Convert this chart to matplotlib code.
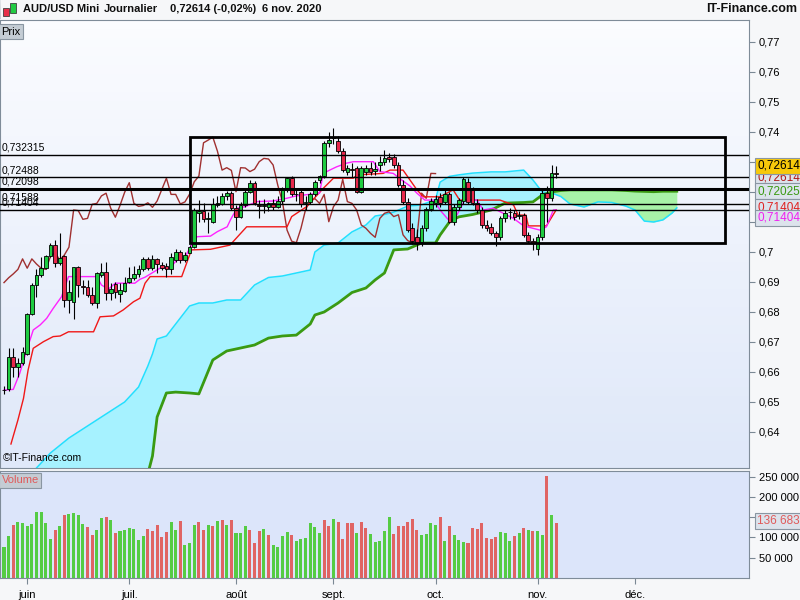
import numpy as np
import matplotlib
matplotlib.use("Agg")
import matplotlib.pyplot as plt
from matplotlib.patches import Rectangle

plt.rcParams['font.family'] = ['Liberation Sans', 'DejaVu Sans']

# daily candles, 25 May -> 6 Nov 2020 (index 0..119)
opens = [0.6541, 0.6542, 0.6651, 0.6616, 0.6629, 0.6660, 0.6792, 0.6890, 0.6923, 0.6946,
         0.6987, 0.7023, 0.6962, 0.6987, 0.6840, 0.6834, 0.6949, 0.6887, 0.6884, 0.6857,
         0.6829, 0.6923, 0.6932, 0.6862, 0.6892, 0.6860, 0.6871, 0.6901, 0.6914, 0.6926,
         0.6942, 0.6977, 0.6946, 0.6977, 0.6957, 0.6954, 0.6942, 0.6973, 0.6999, 0.6973,
         0.6998, 0.7016, 0.7131, 0.7138, 0.7109, 0.7100, 0.7157, 0.7159, 0.7187, 0.7196,
         0.7146, 0.7116, 0.7157, 0.7199, 0.7231, 0.7155, 0.7152, 0.7151, 0.7164, 0.7149,
         0.7171, 0.7207, 0.7246, 0.7194, 0.7200, 0.7164, 0.7167, 0.7193, 0.7240, 0.7253,
         0.7364, 0.7380, 0.7371, 0.7336, 0.7268, 0.7278, 0.7279, 0.7201, 0.7268, 0.7281,
         0.7270, 0.7289, 0.7301, 0.7316, 0.7318, 0.7290, 0.7223, 0.7168, 0.7080, 0.7050,
         0.7034, 0.7079, 0.7142, 0.7162, 0.7184, 0.7168, 0.7192, 0.7101, 0.7151, 0.7169,
         0.7234, 0.7207, 0.7162, 0.7140, 0.7090, 0.7084, 0.7062, 0.7049, 0.7112, 0.7132,
         0.7131, 0.7121, 0.7123, 0.7057, 0.7038, 0.7010, 0.7051, 0.7196, 0.7179, 0.7263]
highs = [0.6552, 0.6679, 0.6679, 0.6646, 0.6682, 0.6796, 0.6896, 0.6942, 0.6984, 0.6990,
         0.7029, 0.7040, 0.7062, 0.6990, 0.6907, 0.6951, 0.6953, 0.6905, 0.6907, 0.6884,
         0.6934, 0.6962, 0.6966, 0.6896, 0.6900, 0.6896, 0.6918, 0.6951, 0.6953, 0.6957,
         0.6984, 0.6984, 0.6990, 0.6980, 0.6968, 0.6962, 0.6995, 0.7009, 0.7007, 0.6999,
         0.7024, 0.7146, 0.7173, 0.7162, 0.7134, 0.7179, 0.7185, 0.7198, 0.7204, 0.7204,
         0.7155, 0.7168, 0.7207, 0.7240, 0.7237, 0.7173, 0.7175, 0.7168, 0.7175, 0.7185,
         0.7215, 0.7250, 0.7252, 0.7210, 0.7205, 0.7185, 0.7200, 0.7240, 0.7258, 0.7370,
         0.7401, 0.7413, 0.7385, 0.7345, 0.7290, 0.7295, 0.7285, 0.7285, 0.7290, 0.7300,
         0.7300, 0.7320, 0.7340, 0.7330, 0.7325, 0.7300, 0.7240, 0.7180, 0.7095, 0.7075,
         0.7090, 0.7150, 0.7180, 0.7190, 0.7195, 0.7205, 0.7200, 0.7160, 0.7180, 0.7250,
         0.7245, 0.7215, 0.7175, 0.7150, 0.7105, 0.7095, 0.7070, 0.7120, 0.7140, 0.7145,
         0.7140, 0.7135, 0.7130, 0.7065, 0.7045, 0.7060, 0.7205, 0.7220, 0.7290, 0.7285]
lows = [0.6528, 0.6538, 0.6584, 0.6584, 0.6623, 0.6657, 0.6790, 0.6851, 0.6918, 0.6942,
        0.6984, 0.6951, 0.6957, 0.6818, 0.6796, 0.6776, 0.6851, 0.6860, 0.6851, 0.6823,
        0.6812, 0.6918, 0.6840, 0.6840, 0.6845, 0.6834, 0.6868, 0.6896, 0.6907, 0.6918,
        0.6938, 0.6940, 0.6940, 0.6929, 0.6940, 0.6918, 0.6925, 0.6968, 0.6962, 0.6968,
        0.6996, 0.7013, 0.7101, 0.7101, 0.7062, 0.7096, 0.7150, 0.7157, 0.7173, 0.7140,
        0.7073, 0.7112, 0.7150, 0.7195, 0.7157, 0.7112, 0.7130, 0.7135, 0.7140, 0.7145,
        0.7160, 0.7200, 0.7185, 0.7170, 0.7150, 0.7140, 0.7160, 0.7185, 0.7230, 0.7245,
        0.7350, 0.7360, 0.7330, 0.7265, 0.7255, 0.7250, 0.7195, 0.7195, 0.7255, 0.7255,
        0.7255, 0.7270, 0.7290, 0.7300, 0.7280, 0.7215, 0.7160, 0.7065, 0.7025, 0.7008,
        0.7020, 0.7070, 0.7135, 0.7150, 0.7150, 0.7160, 0.7095, 0.7090, 0.7140, 0.7160,
        0.7160, 0.7155, 0.7130, 0.7080, 0.7070, 0.7055, 0.7020, 0.7040, 0.7100, 0.7110,
        0.7105, 0.7110, 0.7050, 0.7030, 0.7005, 0.6991, 0.7040, 0.7100, 0.7170, 0.7245]
closes = [0.6540, 0.6651, 0.6616, 0.6631, 0.6668, 0.6792, 0.6890, 0.6923, 0.6946, 0.6987,
          0.7023, 0.6962, 0.6979, 0.6840, 0.6868, 0.6949, 0.6890, 0.6884, 0.6857, 0.6829,
          0.6929, 0.6932, 0.6862, 0.6876, 0.6868, 0.6873, 0.6898, 0.6914, 0.6927, 0.6942,
          0.6977, 0.6946, 0.6977, 0.6960, 0.6946, 0.6942, 0.6984, 0.6999, 0.6973, 0.6990,
          0.7016, 0.7140, 0.7138, 0.7109, 0.7112, 0.7159, 0.7162, 0.7187, 0.7196, 0.7146,
          0.7116, 0.7155, 0.7199, 0.7231, 0.7162, 0.7152, 0.7155, 0.7164, 0.7149, 0.7170,
          0.7208, 0.7246, 0.7192, 0.7192, 0.7160, 0.7167, 0.7193, 0.7234, 0.7253, 0.7364,
          0.7373, 0.7383, 0.7336, 0.7273, 0.7281, 0.7272, 0.7201, 0.7281, 0.7280, 0.7268,
          0.7276, 0.7301, 0.7312, 0.7310, 0.7290, 0.7223, 0.7168, 0.7073, 0.7036, 0.7031,
          0.7079, 0.7142, 0.7170, 0.7178, 0.7162, 0.7192, 0.7101, 0.7151, 0.7173, 0.7242,
          0.7168, 0.7162, 0.7140, 0.7090, 0.7079, 0.7062, 0.7049, 0.7112, 0.7129, 0.7134,
          0.7118, 0.7124, 0.7057, 0.7038, 0.7031, 0.7050, 0.7196, 0.7179, 0.7262, 0.72614]

# volume in thousands
volumes = [75.6, 103.6, 130.7, 138, 134.8, 128, 133, 162.8, 162.8, 136.5,
           96, 118, 128, 155, 158, 161, 155, 133, 126.6, 106,
           118, 148, 150, 143, 112, 115, 118, 123, 120, 94,
           103.6, 121, 116, 130.7, 101, 113, 138, 118, 140.6, 81,
           86, 130.7, 138, 118, 130.7, 128, 140.6, 143, 130.7, 143,
           111, 111, 128, 118, 86, 116, 121, 106, 81, 76,
           103.6, 113, 106, 91, 96, 98.6, 135.6, 125.8, 111, 143,
           128, 145.5, 138, 96, 135.6, 135.6, 111, 138, 123, 108.5,
           88.8, 91, 116, 150, 108.5, 128, 128, 138, 145.5, 118,
           106, 108.5, 135.6, 130.7, 150, 91, 128, 106, 94, 88.8,
           86, 123, 121, 135.6, 98.6, 96, 101, 113, 111, 91,
           103.6, 111, 123, 118, 116, 116, 106, 251.5, 155, 136.683]
vol_dir = ("GGRGGGGGGG" "GRGRGGGGRR" "GGRGRGGGGG" "GRRRRRGGRG" "GGRRGRGRGR"
           "GGGRRRGRGG" "GGRGGGGGGR" "RGRRRRGRRG" "GGGGRRRRRR" "GGGGRGRGGG"
           "RRRRRRRGGG" "RGRGRGGRGR")

# ichimoku lines (bar index, price)
tenkan_x = [0, 2, 3.4, 4.9, 6.3, 7.8, 9.2, 10.6, 12.4, 13.9, 20, 21, 22.5, 24, 28.2, 29.3,
            30.4, 33.6, 35.8, 37.2, 38.7, 40.2, 41.6, 44.5, 46, 48.1, 48.8, 50.2, 52, 54.5,
            58, 60.9, 63, 68, 68.8, 70.2, 71.7, 73.8, 75.3, 79.6, 81, 83.9, 85.7, 87.5, 89,
            90.7, 92.5, 94.3, 95.8, 97.6, 99.3, 101.9, 103.3, 105.4, 107.6, 109.8, 112, 114,
            115.5, 116.9, 118.4, 119]
tenkan_y = [0.6540, 0.6542, 0.6596, 0.6673, 0.6740, 0.6757, 0.6779, 0.6812, 0.6851, 0.6918,
            0.6918, 0.6890, 0.6876, 0.6896, 0.6896, 0.6909, 0.6916, 0.6946, 0.6946, 0.6973,
            0.6973, 0.7018, 0.7051, 0.7053, 0.7068, 0.7084, 0.7107, 0.7146, 0.7151, 0.7168,
            0.7170, 0.7179, 0.7187, 0.7196, 0.7262, 0.7273, 0.7284, 0.7296, 0.7301, 0.7301,
            0.7268, 0.7262, 0.7240, 0.7220, 0.7196, 0.7173, 0.7173, 0.7134, 0.7107, 0.7123,
            0.7173, 0.7173, 0.7140, 0.7146, 0.7129, 0.7112, 0.7087, 0.7079, 0.7073, 0.7084,
            0.7140, 0.71404]

kijun_x = [1.5, 3, 4.2, 5.2, 6.3, 8.5, 10.6, 12.1, 13.9, 19.3, 20.7, 23.6, 25.7, 27.9, 29.3,
           30.4, 31.5, 38.3, 40.4, 44.5, 48.7, 52.3, 61, 62, 65.2, 68.8, 71, 75.3, 76.1, 81.7,
           83.2, 86, 89, 90.4, 93.9, 96.8, 98.2, 106.9, 109.8, 110.8, 112.5, 113, 116.9, 119]
kijun_y = [0.6360, 0.6440, 0.6512, 0.6607, 0.6679, 0.6701, 0.6718, 0.6720, 0.6734, 0.6734,
           0.6784, 0.6787, 0.6807, 0.6834, 0.6846, 0.6896, 0.6918, 0.6918, 0.7007, 0.7009,
           0.7023, 0.7084, 0.7084, 0.7118, 0.7151, 0.7212, 0.7246, 0.7246, 0.7257, 0.7262,
           0.7273, 0.7273, 0.7207, 0.7184, 0.7184, 0.7207, 0.7173, 0.7173, 0.7157, 0.7123,
           0.7123, 0.7087, 0.7087, 0.71404]

cloud_x = [7, 10, 14, 18, 22, 26, 29, 31, 32, 33, 35, 37, 40, 42, 45, 48, 51, 54, 57, 60,
           63, 66, 67, 69, 72, 75, 78, 80, 82, 84, 87, 90, 93, 94, 96, 98, 101, 105, 108, 112,
           114, 116, 118, 120, 122, 125, 128, 131, 134, 136, 138, 140, 142, 144, 145]
span_a = [0.628, 0.633, 0.638, 0.642, 0.646, 0.650, 0.655, 0.662, 0.666, 0.671, 0.672, 0.676,
          0.682, 0.683, 0.683, 0.684, 0.684, 0.689, 0.6915, 0.692, 0.693, 0.694, 0.700, 0.7023,
          0.703, 0.7067, 0.7090, 0.7120, 0.7125, 0.7133, 0.7153, 0.7157, 0.7175, 0.7233, 0.7252,
          0.7257, 0.7263, 0.7267, 0.7267, 0.7273, 0.7240, 0.7200, 0.7197, 0.7185, 0.7160, 0.7150,
          0.7167, 0.7165, 0.7153, 0.7140, 0.7103, 0.7100, 0.7107, 0.7130, 0.7147]
span_b = [0.600, 0.600, 0.605, 0.610, 0.615, 0.620, 0.622, 0.626, 0.632, 0.645, 0.653, 0.6533,
          0.653, 0.6527, 0.664, 0.667, 0.668, 0.669, 0.6713, 0.672, 0.6723, 0.676, 0.679, 0.680,
          0.683, 0.6865, 0.688, 0.6907, 0.693, 0.7007, 0.701, 0.703, 0.703, 0.7057, 0.710, 0.7117,
          0.7125, 0.714, 0.7163, 0.7165, 0.7167, 0.719, 0.720, 0.7205, 0.7207, 0.7207, 0.7207,
          0.7207, 0.7205, 0.7203, 0.7202, 0.7201, 0.72025, 0.72025, 0.72025]

levels = [0.732315, 0.72488, 0.72098, 0.71588, 0.71404]
level_widths = [1, 1, 2.2, 1, 1]
box_x = (40.1, 155.4)
box_y = (0.7030, 0.7383)

month_pos = [5, 27, 50, 71, 93, 115, 136]
month_lab = ["juin", "juil.", "août", "sept.", "oct.", "nov.", "déc."]

CHIKOU_SHIFT = 26
n = len(closes)
idx = np.arange(n)
o = np.array(opens); h = np.array(highs); l = np.array(lows); c = np.array(closes)

fig = plt.figure(figsize=(8, 6), dpi=100, facecolor="#F6F7F9")
W, H = 800, 600
X0 = -4 / 4.64
X1 = (749 - 4) / 4.64

def frac(x0, y0, x1, y1):
    return [x0 / W, 1 - y1 / H, (x1 - x0) / W, (y1 - y0) / H]

# header bar
hdr = fig.add_axes(frac(0, 0, 800, 19))
hdr.imshow(np.linspace(0, 1, 20).reshape(-1, 1),
           cmap=matplotlib.colors.LinearSegmentedColormap.from_list("g", ["#E2E6EA", "#C6CCD2"]),
           aspect="auto", extent=[0, 1, 0, 1])
hdr.set_axis_off()
hdr.set_xlim(0, 800)
hdr.set_ylim(0, 1)
hdr.add_patch(Rectangle((3, 0.15), 6, 0.45, fc="#E8304A", ec="#404040", lw=0.6))
hdr.add_patch(Rectangle((10, 0.3), 6, 0.55, fc="#22CC44", ec="#404040", lw=0.6))
for xt, s in [(23, "AUD/USD Mini"), (104, "Journalier"), (170, "0,72614 (-0,02%)"), (262, "6 nov. 2020")]:
    hdr.text(xt, 0.5, s, fontsize=8, fontweight="bold", va="center", ha="left", color="#101010")
hdr.text(797, 0.5, "IT-Finance.com", fontsize=9, fontweight="bold", va="center", ha="right", color="#101010")

# price panel
ax = fig.add_axes(frac(0, 20, 749, 468))
ax.imshow(np.linspace(0, 1, 50).reshape(-1, 1),
          cmap=matplotlib.colors.LinearSegmentedColormap.from_list("bg", ["#FBFCFF", "#DFE8F9"]),
          aspect="auto", extent=[0, 1, 0, 1], transform=ax.transAxes, zorder=0)
ax.set_xlim(X0, X1)
ax.set_ylim(0.628, 0.77733)

ca = np.array(span_a); cb = np.array(span_b); cx = np.array(cloud_x)
ax.fill_between(cx, ca, cb, where=ca >= cb, interpolate=True, color="#A6F2FF", lw=0, zorder=1)
ax.fill_between(cx, ca, cb, where=ca < cb, interpolate=True, color="#A8F2A8", lw=0, zorder=1)
ax.plot(cx, ca, color="#22E0FF", lw=1.1, zorder=2)
ax.plot(cx, cb, color="#3A9A12", lw=2.0, zorder=2)

ax.plot(idx[:n - CHIKOU_SHIFT], c[CHIKOU_SHIFT:], color="#A03030", lw=1.0, zorder=3)
ax.plot(kijun_x, kijun_y, color="#F01818", lw=1.0, zorder=3)
ax.plot(tenkan_x, tenkan_y, color="#FF22FF", lw=1.0, zorder=3)

up = c >= o
ax.vlines(idx, l, h, color="black", lw=0.8, zorder=4)
body_lo = np.minimum(o, c)
body_h = np.maximum(np.abs(c - o), 0.00008)
ax.bar(idx, body_h, bottom=body_lo, width=0.8,
       color=np.where(up, "#1ECC40", "#E8284C"), edgecolor="black", lw=0.6, zorder=5)

for lev, lw in zip(levels, level_widths):
    ax.axhline(lev, color="black", lw=lw, zorder=6)
    ax.annotate(f"{lev}".replace(".", ","), (0, lev), xycoords=("axes fraction", "data"),
                xytext=(1.5, 1.5), textcoords="offset points", fontsize=7.5, va="bottom", ha="left",
                zorder=7)
ax.add_patch(Rectangle((box_x[0], box_y[0]), box_x[1] - box_x[0], box_y[1] - box_y[0],
                       fill=False, ec="black", lw=2, zorder=6))

# 0,71 / 0,72 / 0,73 sit under the value tags, so they get a tick but no label
yt = [0.64, 0.65, 0.66, 0.67, 0.68, 0.69, 0.70, 0.71, 0.72, 0.73, 0.74, 0.75, 0.76, 0.77]
hidden = {0.71, 0.72, 0.73}
ax.set_yticks(yt)
ax.set_yticklabels(["" if v in hidden else ("%g" % v).replace(".", ",") for v in yt])
for t, v in zip(ax.get_yticklabels(), yt):
    if round(v * 100) % 5 == 0:
        t.set_fontweight("bold")
ax.yaxis.tick_right()
ax.tick_params(axis="y", direction="out", length=4, color="#7A8894", labelsize=8, pad=3)
ax.set_xticks([])
for s in ax.spines.values():
    s.set_color("#7F8C99")

ax.text(0.004, 0.012, "©IT-Finance.com", transform=ax.transAxes, fontsize=7.5, va="bottom", zorder=8)
ax.text(0.002, 0.985, "Prix", transform=ax.transAxes, fontsize=8, va="top", zorder=8,
        bbox=dict(boxstyle="square,pad=0.2", fc="#C4CCD4", ec="#8A96A2", lw=0.8))

# volume panel
av = fig.add_axes(frac(0, 471, 749, 578))
av.set_facecolor("#DCE5FA")
av.bar(idx, volumes, width=0.66, color=["#55CC44" if d == "G" else "#E06464" for d in vol_dir], zorder=2)
av.set_xlim(X0, X1)
av.set_ylim(0, 264)
av.yaxis.tick_right()
vt = [50, 100, 150, 200, 250]
av.set_yticks(vt)
av.set_yticklabels(["" if v == 150 else f"{v} 000" for v in vt])
av.tick_params(axis="y", direction="out", length=4, color="#7A8894", labelsize=8, pad=3)
av.set_xticks(month_pos)
av.set_xticklabels(month_lab)
av.tick_params(axis="x", direction="out", length=4, color="#7A8894", labelsize=8, pad=5)
for s in av.spines.values():
    s.set_color("#7F8C99")
av.text(0.002, 0.96, "Volume", transform=av.transAxes, fontsize=8, va="top", color="#E05A5A", zorder=8,
        bbox=dict(boxstyle="square,pad=0.2", fc="#C4CCD4", ec="#8A96A2", lw=0.8))

# right-hand value tags
tag = dict(boxstyle="square,pad=0.15", fc="#DCE3EC", ec="#8A96A2", lw=0.8)
def value_tag(y, s, col, fc=None):
    b = dict(tag)
    if fc:
        b["fc"] = fc
    fig.text(757 / W, 1 - y / H, s, fontsize=8.5, color=col, va="center", ha="left", bbox=b, zorder=10)

value_tag(178, "0,72614", "#B01818")
value_tag(166, "0,72614", "black", fc="#F7C90A")
value_tag(191, "0,72025", "#3A9A12")
value_tag(207, "0,71404", "#E02020")
value_tag(218, "0,71404", "#F020F0")
fig.text(757 / W, 1 - 521 / H, "136 683", fontsize=8.5, color="#E05A5A", va="center", ha="left",
         bbox=tag, zorder=10)

fig.savefig("out.png", dpi=100, facecolor=fig.get_facecolor())
